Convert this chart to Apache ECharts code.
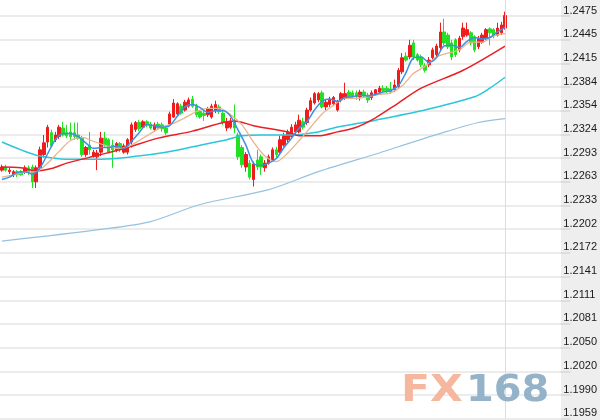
<!DOCTYPE html>
<html><head><meta charset="utf-8">
<script src="https://cdn.jsdelivr.net/npm/echarts@6/dist/echarts.min.js"></script>
<style>html,body{margin:0;padding:0;background:#fff}#c{width:600px;height:420px}</style>
</head><body><div id="c"></div>
<script>
// price axis tick labels (bottom -> top)
const yTickLabels = ['1.1959','1.1990','1.2020','1.2050','1.2081','1.2111','1.2141','1.2172','1.2202','1.2233','1.2263','1.2293','1.2324','1.2354','1.2384','1.2415','1.2445','1.2475'];
const yStep = 0.0030354;
const yMin = 394 * yStep;
const yMax = 1.2496;

// 147 time slots; the first 133 hold candles, the rest is empty space on the right
const slotCount = 147;
const categories = Array.from({length: slotCount}, (_, i) => 'K' + (i + 1));

// candles: [open, close, low, high]
const kData = [
[1.2278,1.2282,1.2276,1.2285],[1.2282,1.2278,1.2276,1.2285],[1.2276,1.2278,1.2273,1.2281],[1.2272,1.2276,1.2269,1.2278],
[1.2276,1.2272,1.2269,1.2278],[1.2276,1.2272,1.2271,1.2278],[1.2276,1.2281,1.2273,1.2284],[1.2281,1.2276,1.2272,1.2284],
[1.2282,1.2263,1.2255,1.2285],[1.2263,1.2281,1.2255,1.2284],[1.2281,1.2304,1.2278,1.2308],[1.2298,1.2313,1.2294,1.2323],
[1.2314,1.2333,1.2307,1.2336],[1.2326,1.2309,1.2307,1.2330],[1.2317,1.2323,1.2314,1.2327],[1.2321,1.2333,1.2318,1.2336],
[1.2332,1.2323,1.2321,1.2340],[1.2326,1.2322,1.2319,1.2336],[1.2327,1.2321,1.2317,1.2339],[1.2326,1.2321,1.2317,1.2339],
[1.2323,1.2319,1.2317,1.2339],[1.2319,1.2298,1.2295,1.2322],[1.2298,1.2307,1.2295,1.2309],[1.2310,1.2304,1.2298,1.2327],
[1.2296,1.2301,1.2294,1.2304],[1.2295,1.2300,1.2278,1.2304],[1.2301,1.2319,1.2296,1.2327],[1.2319,1.2310,1.2308,1.2327],
[1.2317,1.2301,1.2300,1.2319],[1.2310,1.2304,1.2281,1.2317],[1.2304,1.2312,1.2301,1.2314],[1.2312,1.2304,1.2301,1.2314],
[1.2301,1.2309,1.2299,1.2312],[1.2301,1.2317,1.2298,1.2319],[1.2314,1.2336,1.2307,1.2339],[1.2330,1.2339,1.2327,1.2341],
[1.2339,1.2331,1.2328,1.2342],[1.2333,1.2340,1.2331,1.2342],[1.2340,1.2336,1.2333,1.2342],[1.2337,1.2332,1.2330,1.2340],
[1.2330,1.2336,1.2327,1.2339],[1.2337,1.2332,1.2330,1.2340],[1.2336,1.2331,1.2327,1.2339],[1.2332,1.2326,1.2323,1.2335],
[1.2337,1.2350,1.2335,1.2353],[1.2346,1.2364,1.2345,1.2369],[1.2350,1.2363,1.2348,1.2365],[1.2360,1.2351,1.2349,1.2363],
[1.2355,1.2365,1.2353,1.2368],[1.2360,1.2368,1.2358,1.2371],[1.2369,1.2360,1.2358,1.2373],[1.2360,1.2349,1.2346,1.2363],
[1.2353,1.2346,1.2344,1.2355],[1.2351,1.2348,1.2341,1.2355],[1.2349,1.2357,1.2346,1.2359],[1.2346,1.2360,1.2344,1.2363],
[1.2354,1.2362,1.2351,1.2367],[1.2359,1.2353,1.2350,1.2362],[1.2351,1.2339,1.2336,1.2354],[1.2332,1.2340,1.2328,1.2345],
[1.2333,1.2341,1.2331,1.2345],[1.2341,1.2332,1.2325,1.2362],[1.2323,1.2295,1.2291,1.2326],[1.2307,1.2285,1.2281,1.2310],
[1.2282,1.2298,1.2276,1.2301],[1.2287,1.2269,1.2266,1.2291],[1.2266,1.2286,1.2257,1.2289],[1.2291,1.2282,1.2278,1.2304],
[1.2295,1.2282,1.2272,1.2298],[1.2281,1.2287,1.2276,1.2291],[1.2287,1.2295,1.2285,1.2298],[1.2291,1.2304,1.2289,1.2307],
[1.2304,1.2298,1.2294,1.2308],[1.2301,1.2317,1.2298,1.2322],[1.2310,1.2322,1.2308,1.2326],[1.2317,1.2327,1.2314,1.2330],
[1.2321,1.2333,1.2318,1.2337],[1.2327,1.2336,1.2325,1.2340],[1.2327,1.2342,1.2325,1.2349],[1.2340,1.2333,1.2330,1.2345],
[1.2339,1.2355,1.2336,1.2358],[1.2355,1.2367,1.2353,1.2371],[1.2364,1.2376,1.2362,1.2378],[1.2368,1.2376,1.2365,1.2378],
[1.2377,1.2359,1.2357,1.2380],[1.2359,1.2365,1.2355,1.2368],[1.2362,1.2369,1.2359,1.2372],[1.2363,1.2371,1.2360,1.2373],
[1.2355,1.2365,1.2353,1.2368],[1.2368,1.2376,1.2365,1.2378],[1.2371,1.2376,1.2368,1.2390],[1.2378,1.2372,1.2369,1.2381],
[1.2377,1.2373,1.2371,1.2380],[1.2377,1.2372,1.2368,1.2380],[1.2372,1.2378,1.2367,1.2381],[1.2378,1.2373,1.2371,1.2381],
[1.2374,1.2368,1.2364,1.2377],[1.2371,1.2377,1.2368,1.2380],[1.2376,1.2381,1.2373,1.2382],[1.2378,1.2383,1.2376,1.2386],
[1.2383,1.2380,1.2377,1.2387],[1.2383,1.2380,1.2377,1.2386],[1.2382,1.2378,1.2376,1.2391],[1.2381,1.2387,1.2378,1.2394],
[1.2385,1.2406,1.2382,1.2409],[1.2404,1.2422,1.2401,1.2428],[1.2424,1.2419,1.2417,1.2429],[1.2423,1.2438,1.2420,1.2445],
[1.2441,1.2423,1.2419,1.2445],[1.2426,1.2419,1.2417,1.2428],[1.2423,1.2413,1.2410,1.2426],[1.2412,1.2406,1.2403,1.2415],
[1.2413,1.2419,1.2410,1.2423],[1.2422,1.2432,1.2419,1.2435],[1.2426,1.2437,1.2423,1.2440],[1.2435,1.2455,1.2432,1.2467],
[1.2455,1.2441,1.2438,1.2472],[1.2451,1.2436,1.2433,1.2454],[1.2441,1.2423,1.2419,1.2445],[1.2445,1.2426,1.2423,1.2447],
[1.2432,1.2447,1.2429,1.2450],[1.2449,1.2460,1.2445,1.2467],[1.2451,1.2458,1.2449,1.2467],[1.2454,1.2441,1.2438,1.2456],
[1.2449,1.2432,1.2429,1.2451],[1.2436,1.2447,1.2433,1.2450],[1.2442,1.2451,1.2440,1.2454],[1.2447,1.2458,1.2445,1.2460],
[1.2459,1.2454,1.2438,1.2461],[1.2458,1.2450,1.2447,1.2460],[1.2451,1.2460,1.2449,1.2467],[1.2454,1.2464,1.2451,1.2468],
[1.2460,1.2476,1.2458,1.2481]
];

// moving averages: [slot index, value]
const ma5 = [[0,1.2266],[2,1.2269],[4,1.2275],[6,1.2276],[8,1.2273],[10,1.2281],[12,1.2299],[14,1.2317],[16,1.2325],[18,1.2325],[20,1.2321],[22,1.2313],[24,1.2306],[26,1.2307],[28,1.2307],[30,1.2309],[32,1.2306],[34,1.2315],[36,1.2326],[38,1.2336],[40,1.2335],[42,1.2333],[44,1.2335],[46,1.2347],[48,1.2359],[50,1.2362],[52,1.2358],[54,1.2352],[56,1.2354],[58,1.2354],[60,1.2347],[62,1.2329],[64,1.2310],[66,1.2287],[68,1.2284],[70,1.2287],[72,1.2293],[74,1.2307],[76,1.2319],[78,1.2332],[80,1.2340],[82,1.2355],[84,1.2366],[86,1.2369],[88,1.2366],[90,1.2371],[92,1.2372],[94,1.2374],[96,1.2373],[98,1.2375],[100,1.2378],[102,1.2380],[104,1.2386],[106,1.2403],[108,1.2422],[110,1.2423],[112,1.2416],[114,1.2422],[116,1.2437],[118,1.2438],[120,1.2435],[122,1.2443],[124,1.2448],[126,1.2446],[128,1.2448],[130,1.2455],[132,1.2461]];
const ma10 = [[0,1.2269],[3,1.2272],[6,1.2275],[9,1.2276],[12,1.2287],[15,1.2302],[18,1.2316],[21,1.2320],[24,1.2315],[27,1.2310],[30,1.2306],[33,1.2308],[36,1.2316],[39,1.2325],[42,1.2333],[45,1.2338],[48,1.2345],[51,1.2353],[54,1.2357],[57,1.2357],[60,1.2349],[63,1.2336],[66,1.2314],[69,1.2296],[72,1.2289],[75,1.2300],[78,1.2316],[81,1.2333],[84,1.2350],[87,1.2361],[90,1.2370],[93,1.2370],[96,1.2372],[99,1.2375],[102,1.2377],[105,1.2386],[108,1.2402],[111,1.2411],[114,1.2423],[117,1.2428],[120,1.2432],[123,1.2442],[126,1.2442],[129,1.2450],[132,1.2453]];
const ma30 = [[0,1.2282],[5,1.2281],[9,1.2277],[13,1.2280],[17,1.2287],[26,1.2298],[33,1.2307],[41,1.2319],[50,1.2328],[58,1.2339],[61,1.2341],[66,1.2335],[75,1.2327],[78,1.2322],[83,1.2322],[88,1.2327],[93,1.2333],[98,1.2345],[104,1.2364],[110,1.2383],[121,1.2406],[132,1.2437]];
const ma60 = [[0,1.2314],[5,1.2304],[10,1.2296],[17,1.2292],[26,1.2292],[34,1.2295],[43,1.2301],[52,1.2310],[59,1.2317],[63,1.2322],[68,1.2323],[76,1.2323],[83,1.2327],[87,1.2332],[98,1.2342],[110,1.2354],[124,1.2372],[128,1.2383],[132,1.2397]];
const ma120 = [[0,1.2187],[26,1.2202],[39,1.2212],[52,1.2234],[70,1.2253],[83,1.2276],[99,1.2300],[104,1.2308],[117,1.2328],[125,1.2339],[132,1.2344]];

const lastIndex = kData.length - 1;

function maSeries(data, color, width, smooth) {
  return {type: 'line', data: data, symbol: 'none', showSymbol: false, connectNulls: true,
    smooth: smooth, silent: true, z: 3,
    lineStyle: {color: color, width: width}};
}

const chart = echarts.init(document.getElementById('c'), null, {renderer: 'canvas'});
chart.setOption({
  animation: false,
  backgroundColor: '#ffffff',
  grid: {left: 0, right: 39, top: 0, bottom: 1.3},
  xAxis: {type: 'category', data: categories, boundaryGap: true,
    axisLine: {show: false}, axisTick: {show: false}, axisLabel: {show: false}, splitLine: {show: false}},
  yAxis: {type: 'value', position: 'right', min: yMin, max: yMax, interval: yStep,
    axisLine: {show: false},
    axisTick: {show: true, length: 10, lineStyle: {color: '#dddddd', width: 2}},
    axisLabel: {show: true, margin: 3, align: 'left', verticalAlign: 'bottom', showMaxLabel: false,
      fontFamily: '"Liberation Sans", Arial, sans-serif', fontSize: 11, color: '#1a1a1a',
      formatter: function (v) {
        const k = Math.round((v - yMin) / yStep);
        if (k < 0 || k >= yTickLabels.length) return '';
        if (Math.abs(v - (yMin + k * yStep)) > yStep * 0.2) return '';
        return yTickLabels[k];
      }},
    splitLine: {show: true, showMaxLine: false, lineStyle: {color: '#ececec', width: 2}}
  },
  graphic: [
    {type: 'rect', z: -100, silent: true, shape: {x: 561, y: 0, width: 39, height: 420}, style: {fill: '#eeeeee'}},
    {type: 'text', z: 100, silent: true, x: 401, y: 391, scaleX: 1.15,
      style: {text: 'FX', font: 'bold 37px "DejaVu Sans"', fill: '#f5b39a', opacity: 0.95,
        verticalAlign: 'middle', textVerticalAlign: 'middle'}},
    {type: 'text', z: 100, silent: true, x: 466, y: 391, scaleX: 1.08,
      style: {text: '168', font: 'bold 37px "DejaVu Sans"', fill: '#8eafc5', opacity: 0.95,
        verticalAlign: 'middle', textVerticalAlign: 'middle'}}
  ],
  series: [
    {type: 'candlestick', data: kData, barWidth: 3, z: 2, silent: true,
      itemStyle: {color: '#f01c1c', color0: '#22e022', borderColor: '#f01c1c', borderColor0: '#22e022', borderWidth: 1},
      markLine: {symbol: 'none', silent: true, label: {show: false},
        lineStyle: {color: '#dcdcdc', type: 'solid', width: 1},
        data: [{xAxis: lastIndex}]}},
    maSeries(ma120, '#96c2df', 1.2, 0.3),
    maSeries(ma60, '#2cc6d8', 1.5, 0.3),
    maSeries(ma30, '#ea1f25', 1.5, 0.3),
    maSeries(ma10, '#ebb38d', 1.3, 0.3),
    maSeries(ma5, '#3c8fe6', 1.5, 0.3)
  ]
});
</script></body></html>
